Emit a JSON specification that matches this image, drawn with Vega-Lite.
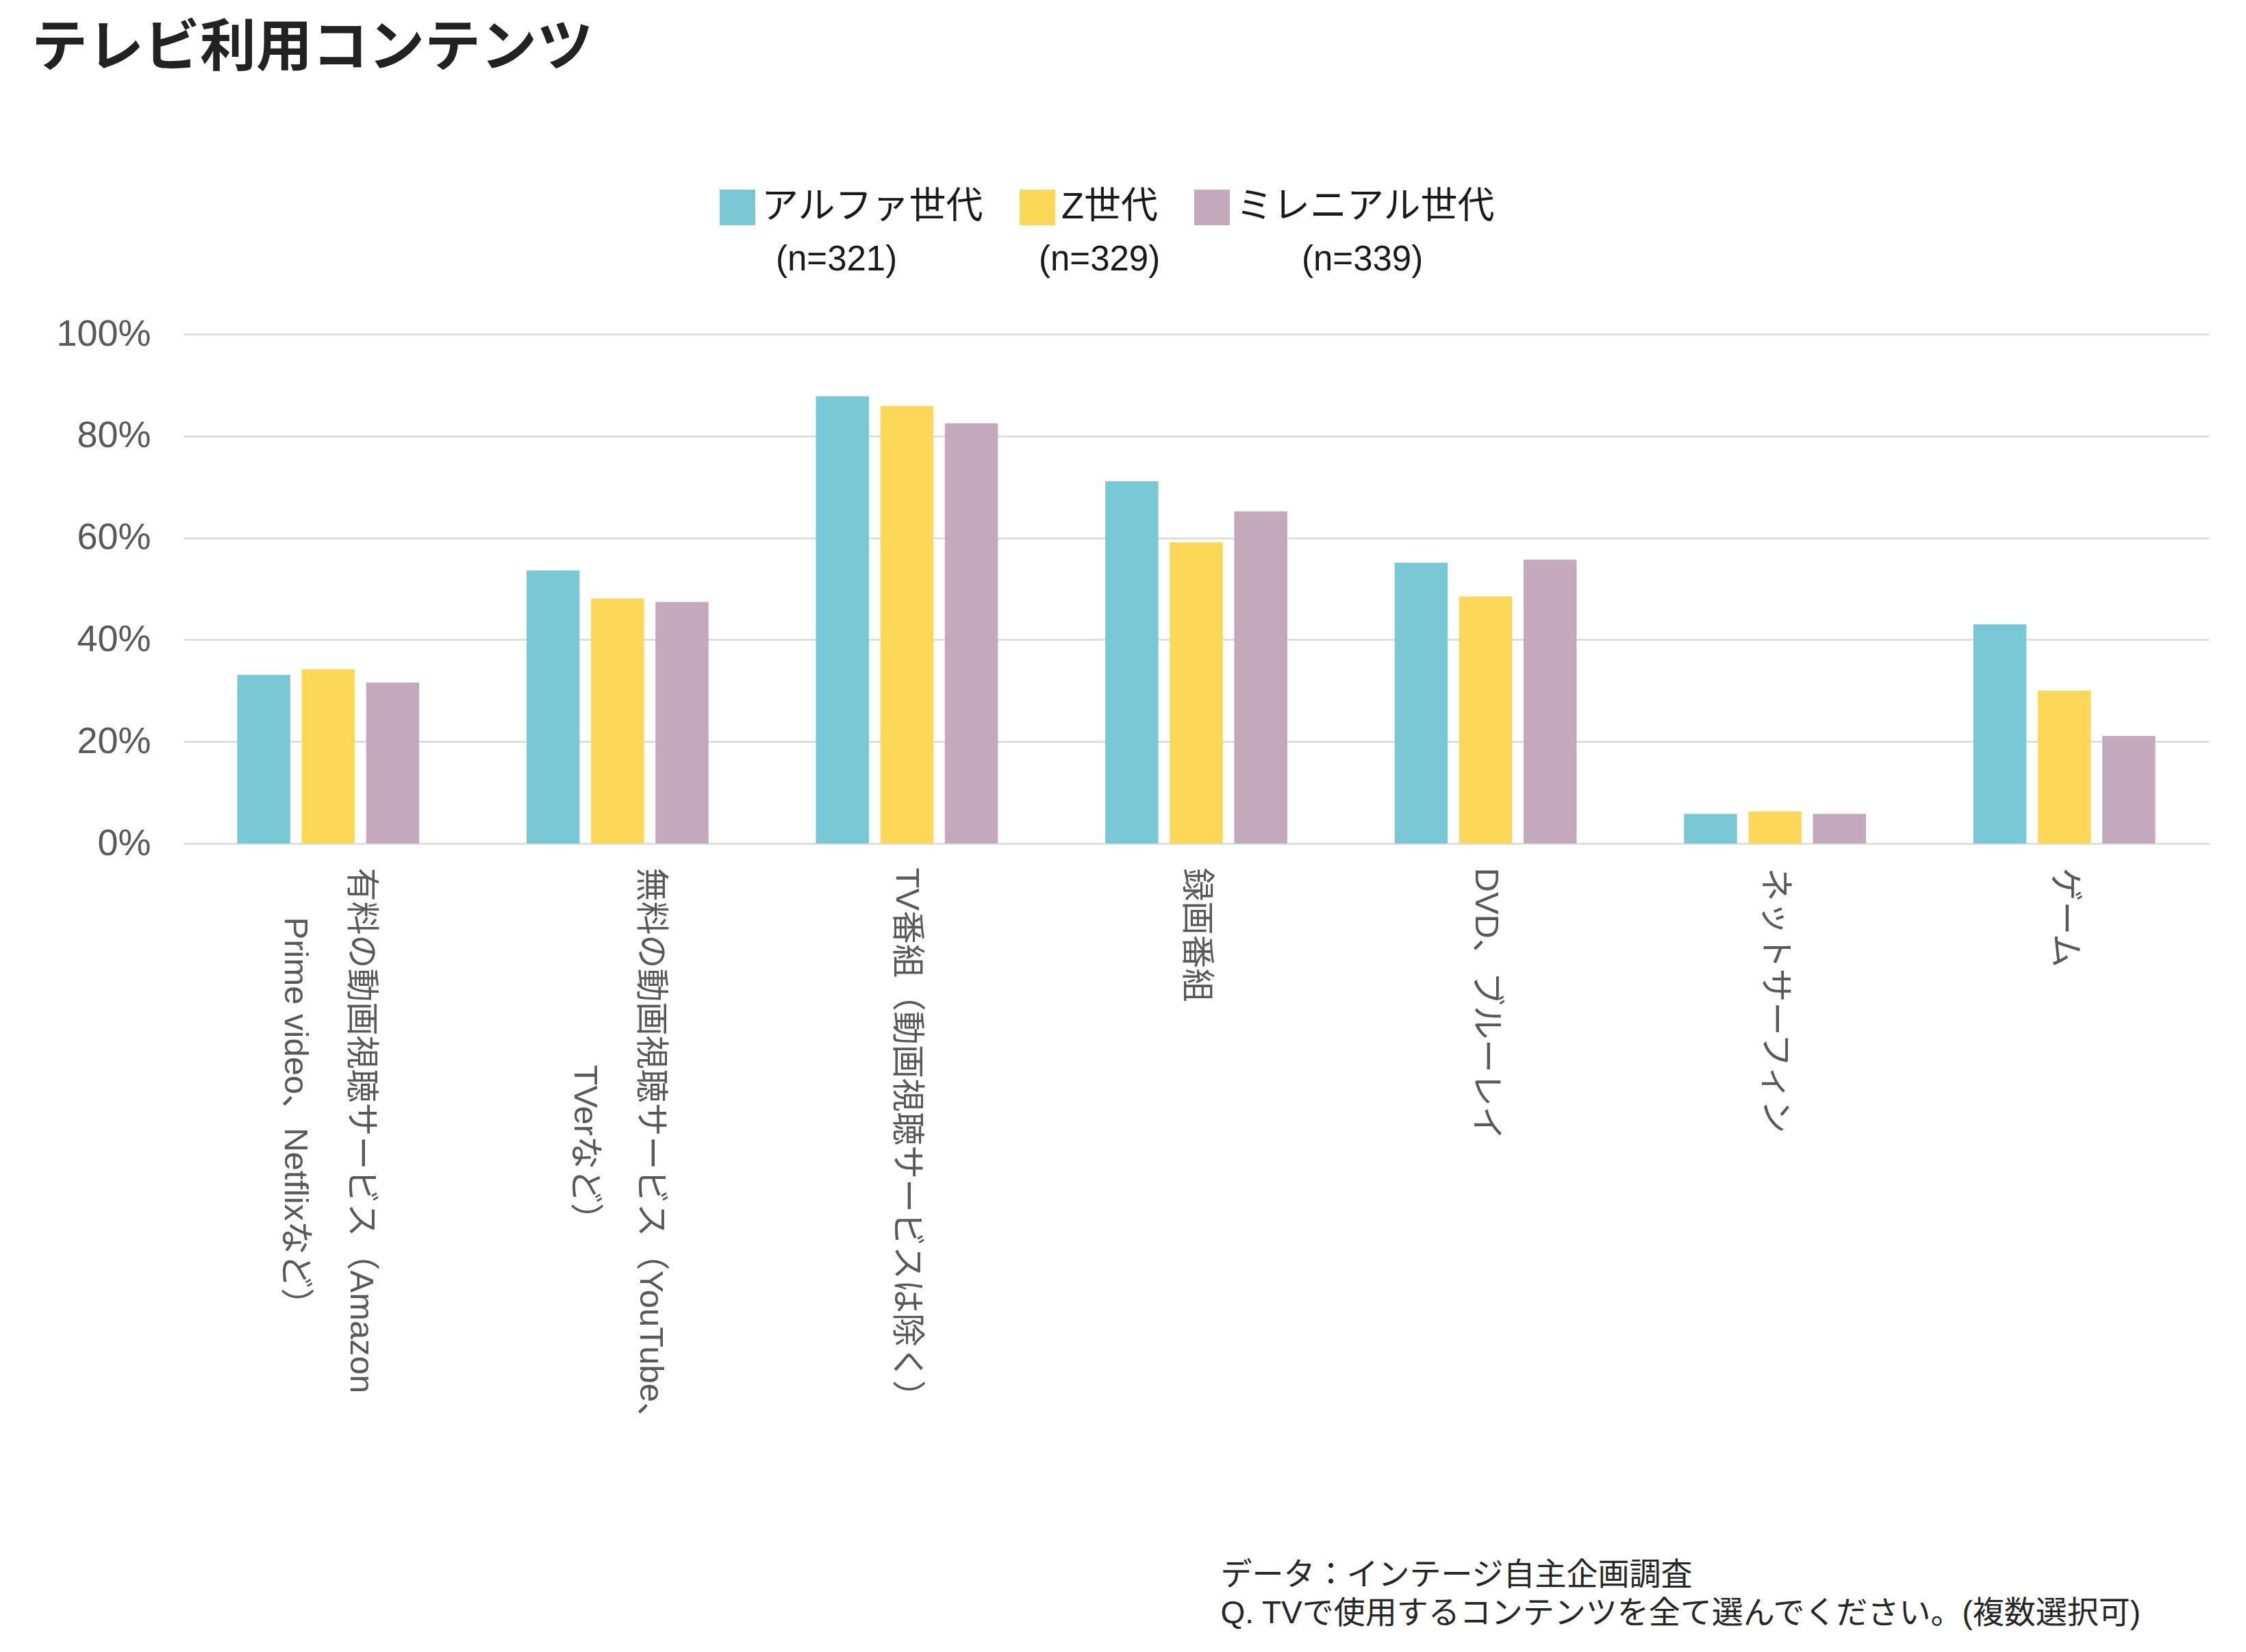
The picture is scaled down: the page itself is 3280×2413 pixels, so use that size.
{
  "$schema": "https://vega.github.io/schema/vega-lite/v6.json",
  "width": 2958,
  "height": 744,
  "autosize": {"type": "none"},
  "padding": {"left": 268, "top": 488, "right": 54, "bottom": 1181},
  "background": "#ffffff",
  "title": {
    "text": "テレビ利用コンテンツ",
    "anchor": "start",
    "frame": "group",
    "dx": -222,
    "dy": -163,
    "fontSize": 82,
    "fontWeight": "bold",
    "font": "Noto Sans CJK JP",
    "color": "#222222",
    "offset": 0
  },
  "data": {
    "values": [
      {"category": "有料の動画視聴サービス（Amazon Prime video、Netflixなど）", "gen": "アルファ世代", "n": "(n=321)", "value": 33.1},
      {"category": "有料の動画視聴サービス（Amazon Prime video、Netflixなど）", "gen": "Z世代", "n": "(n=329)", "value": 34.2},
      {"category": "有料の動画視聴サービス（Amazon Prime video、Netflixなど）", "gen": "ミレニアル世代", "n": "(n=339)", "value": 31.6},
      {"category": "無料の動画視聴サービス（YouTube、TVerなど）", "gen": "アルファ世代", "n": "(n=321)", "value": 53.6},
      {"category": "無料の動画視聴サービス（YouTube、TVerなど）", "gen": "Z世代", "n": "(n=329)", "value": 48.1},
      {"category": "無料の動画視聴サービス（YouTube、TVerなど）", "gen": "ミレニアル世代", "n": "(n=339)", "value": 47.4},
      {"category": "TV番組（動画視聴サービスは除く）", "gen": "アルファ世代", "n": "(n=321)", "value": 87.8},
      {"category": "TV番組（動画視聴サービスは除く）", "gen": "Z世代", "n": "(n=329)", "value": 85.9},
      {"category": "TV番組（動画視聴サービスは除く）", "gen": "ミレニアル世代", "n": "(n=339)", "value": 82.5},
      {"category": "録画番組", "gen": "アルファ世代", "n": "(n=321)", "value": 71.1},
      {"category": "録画番組", "gen": "Z世代", "n": "(n=329)", "value": 59.1},
      {"category": "録画番組", "gen": "ミレニアル世代", "n": "(n=339)", "value": 65.2},
      {"category": "DVD、ブルーレイ", "gen": "アルファ世代", "n": "(n=321)", "value": 55.1},
      {"category": "DVD、ブルーレイ", "gen": "Z世代", "n": "(n=329)", "value": 48.5},
      {"category": "DVD、ブルーレイ", "gen": "ミレニアル世代", "n": "(n=339)", "value": 55.7},
      {"category": "ネットサーフィン", "gen": "アルファ世代", "n": "(n=321)", "value": 5.8},
      {"category": "ネットサーフィン", "gen": "Z世代", "n": "(n=329)", "value": 6.3},
      {"category": "ネットサーフィン", "gen": "ミレニアル世代", "n": "(n=339)", "value": 5.8},
      {"category": "ゲーム", "gen": "アルファ世代", "n": "(n=321)", "value": 43.0},
      {"category": "ゲーム", "gen": "Z世代", "n": "(n=329)", "value": 30.0},
      {"category": "ゲーム", "gen": "ミレニアル世代", "n": "(n=339)", "value": 21.1}
    ]
  },
  "mark": {"type": "bar", "strokeWidth": 0},
  "encoding": {
    "x": {
      "field": "category",
      "type": "nominal",
      "sort": null,
      "scale": {"paddingInner": 0.371, "paddingOuter": 0.1855},
      "axis": {
        "title": ["データ：インテージ自主企画調査", "Q. TVで使用するコンテンツを全て選んでください。(複数選択可)"],
        "titleX": 1514,
        "titleY": 1046,
        "titleAlign": "left",
        "titleAnchor": "start",
        "titleBaseline": "top",
        "titleAngle": 0,
        "titleFontSize": 46,
        "titleFontWeight": "normal",
        "titleFont": "Liberation Sans, Noto Sans CJK JP",
        "titleColor": "#262626",
        "titleLineHeight": 56,
        "titleLimit": 3000,
        "labelAngle": 90,
        "labelFontSize": 49,
        "labelFont": "Liberation Sans, Noto Sans CJK JP",
        "labelColor": "#595959",
        "labelLineHeight": 96,
        "labelLimit": 3000,
        "labelPadding": 35,
        "labelOverlap": false,
        "labelOffset": {
          "condition": {
            "test": "datum.value == '有料の動画視聴サービス（Amazon Prime video、Netflixなど）' || datum.value == '無料の動画視聴サービス（YouTube、TVerなど）'",
            "value": 48
          },
          "value": 0
        },
        "labelExpr": "datum.label == '有料の動画視聴サービス（Amazon Prime video、Netflixなど）' ? ['有料の動画視聴サービス（Amazon', '⠀⠀Prime video、Netflixなど）'] : datum.label == '無料の動画視聴サービス（YouTube、TVerなど）' ? ['無料の動画視聴サービス（YouTube、', '⠀⠀⠀⠀⠀⠀⠀⠀TVerなど）'] : datum.label",
        "domain": false,
        "ticks": false,
        "tickSize": 0,
        "grid": false
      }
    },
    "xOffset": {
      "field": "gen",
      "type": "nominal",
      "sort": ["アルファ世代", "Z世代", "ミレニアル世代"],
      "scale": {"paddingInner": 0.177, "paddingOuter": 0}
    },
    "y": {
      "field": "value",
      "type": "quantitative",
      "scale": {"domain": [0, 100], "nice": false},
      "axis": {
        "title": null,
        "values": [0, 20, 40, 60, 80, 100],
        "labelExpr": "datum.value + '%'",
        "labelFontSize": 54,
        "labelFont": "Liberation Sans, Noto Sans CJK JP",
        "labelColor": "#595959",
        "labelPadding": 48,
        "domain": false,
        "ticks": false,
        "tickSize": 0,
        "grid": true,
        "gridColor": "#D9D9D9",
        "gridWidth": 2.6
      }
    },
    "color": {
      "field": "gen",
      "type": "nominal",
      "scale": {
        "domain": ["アルファ世代", "Z世代", "ミレニアル世代"],
        "range": ["#79C8D6", "#FDD757", "#C4A9BD"]
      },
      "legend": {
        "title": null,
        "orient": "none",
        "direction": "horizontal",
        "legendX": 782,
        "legendY": -212,
        "padding": 0,
        "symbolType": "square",
        "symbolSize": 2704,
        "symbolStrokeWidth": 0,
        "symbolOpacity": 1,
        "labelFontSize": 54,
        "labelFont": "Liberation Sans, Noto Sans CJK JP",
        "labelColor": "#1A1A1A",
        "labelOffset": 8,
        "labelLimit": 2000,
        "columnPadding": 52
      }
    },
    "strokeDash": {
      "field": "n",
      "type": "nominal",
      "scale": {"range": [[1, 0], [1, 0], [1, 0]]},
      "legend": {
        "title": null,
        "orient": "none",
        "direction": "horizontal",
        "legendX": 814,
        "legendY": -134,
        "padding": 0,
        "symbolSize": 0,
        "symbolOpacity": 0,
        "symbolStrokeWidth": 0,
        "labelOffset": 0,
        "labelFontSize": 51,
        "labelFont": "Liberation Sans, Noto Sans CJK JP",
        "labelColor": "#1A1A1A",
        "labelLimit": 2000,
        "columnPadding": 155
      }
    }
  },
  "config": {
    "view": {"stroke": null},
    "font": "Liberation Sans, Noto Sans CJK JP"
  }
}
